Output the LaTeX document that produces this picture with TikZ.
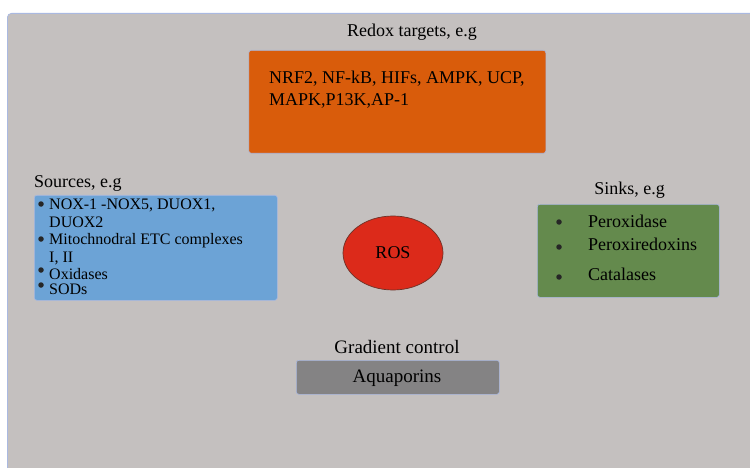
\documentclass[tikz,border=0pt]{standalone}
\usepackage{fontspec}
\setmainfont{Liberation Serif}
\usepackage{tikz}
\usetikzlibrary{shapes.geometric}

\definecolor{panelgray}{RGB}{196,192,191}
\definecolor{panelline}{RGB}{170,185,225}
\definecolor{redoxorange}{RGB}{217,92,11}
\definecolor{sourceblue}{RGB}{108,163,214}
\definecolor{sinkgreen}{RGB}{100,138,77}
\definecolor{rosred}{RGB}{220,42,26}
\definecolor{rosline}{RGB}{110,50,40}
\definecolor{aquagray}{RGB}{132,131,132}

\begin{document}
\begin{tikzpicture}[x=1pt,y=-1pt,
	box/.style={shape=rectangle,draw=panelline,line width=0.6pt,rounded corners=2.5pt,anchor=north west,inner sep=0pt},
	label/.style={anchor=base,inner sep=0pt,font=\fontsize{18}{20}\selectfont},
	item/.style={anchor=base west,inner sep=0pt,font=\fontsize{16}{18}\selectfont},
	dot/.style={shape=circle,fill=black!85,inner sep=0pt,minimum size=5.5pt}]
	\useasboundingbox (0,0) rectangle (750,468);
	\fill[white] (0,0) rectangle (750,468);
	\node[box,fill=panelgray,line width=0.8pt,rounded corners=4pt,minimum width=770pt,minimum height=480pt] (panel) at (7,13) {};

	% redox targets
	\node[label] (redoxlbl) at (412,37) {Redox targets, e.g};
	\node[box,fill=redoxorange,minimum width=297pt,minimum height=103pt] (redox) at (248.5,50) {};
	\node[item,font=\fontsize{18}{20}\selectfont] (redoxa) at (269,84) {NRF2, NF-kB, HIFs, AMPK, UCP,};
	\node[item,font=\fontsize{18}{20}\selectfont] (redoxb) at (269,106) {MAPK,P13K,AP-1};

	% sources
	\node[label,anchor=base west] (srclbl) at (34,187) {Sources, e.g};
	\node[box,fill=sourceblue,minimum width=243pt,minimum height=105pt] (src) at (34,195) {};
	\node[dot] (srcd1) at (41,204) {};
	\node[dot] (srcd2) at (41,239) {};
	\node[dot] (srcd3) at (41,270) {};
	\node[dot] (srcd4) at (41,285) {};
	\node[item] (srca) at (49,209) {NOX-1 -NOX5, DUOX1,};
	\node[item] (srcb) at (49,227) {DUOX2};
	\node[item] (srcc) at (49,244) {Mitochnodral ETC complexes};
	\node[item] (srcd) at (49,262) {I, II};
	\node[item] (srce) at (49,279) {Oxidases};
	\node[item] (srcf) at (49,294) {SODs};

	% sinks
	\node[label] (sinklbl) at (629.5,195) {Sinks, e.g};
	\node[box,fill=sinkgreen,minimum width=182pt,minimum height=93pt] (sink) at (537,204) {};
	\node[dot] (sinkd1) at (559,222) {};
	\node[dot] (sinkd2) at (559,247) {};
	\node[dot] (sinkd3) at (559,277) {};
	\node[item,font=\fontsize{18}{20}\selectfont] (sinka) at (588,227) {Peroxidase};
	\node[item,font=\fontsize{18}{20}\selectfont] (sinkb) at (588,250) {Peroxiredoxins};
	\node[item,font=\fontsize{18}{20}\selectfont] (sinkc) at (588,280) {Catalases};

	% ROS
	\node[shape=ellipse,draw=rosline,line width=0.7pt,fill=rosred,minimum width=100pt,minimum height=74pt,inner sep=0pt] (ros) at (393,253) {};
	\node[label] (roslbl) at (393,258) {ROS};

	% gradient control
	\node[label,font=\fontsize{19}{21}\selectfont] (gradlbl) at (397,353) {Gradient control};
	\node[box,fill=aquagray,minimum width=203pt,minimum height=34pt] (aqua) at (296,360) {};
	\node[label,font=\fontsize{19}{21}\selectfont] (aqualbl) at (397,382) {Aquaporins};
\end{tikzpicture}
\end{document}
